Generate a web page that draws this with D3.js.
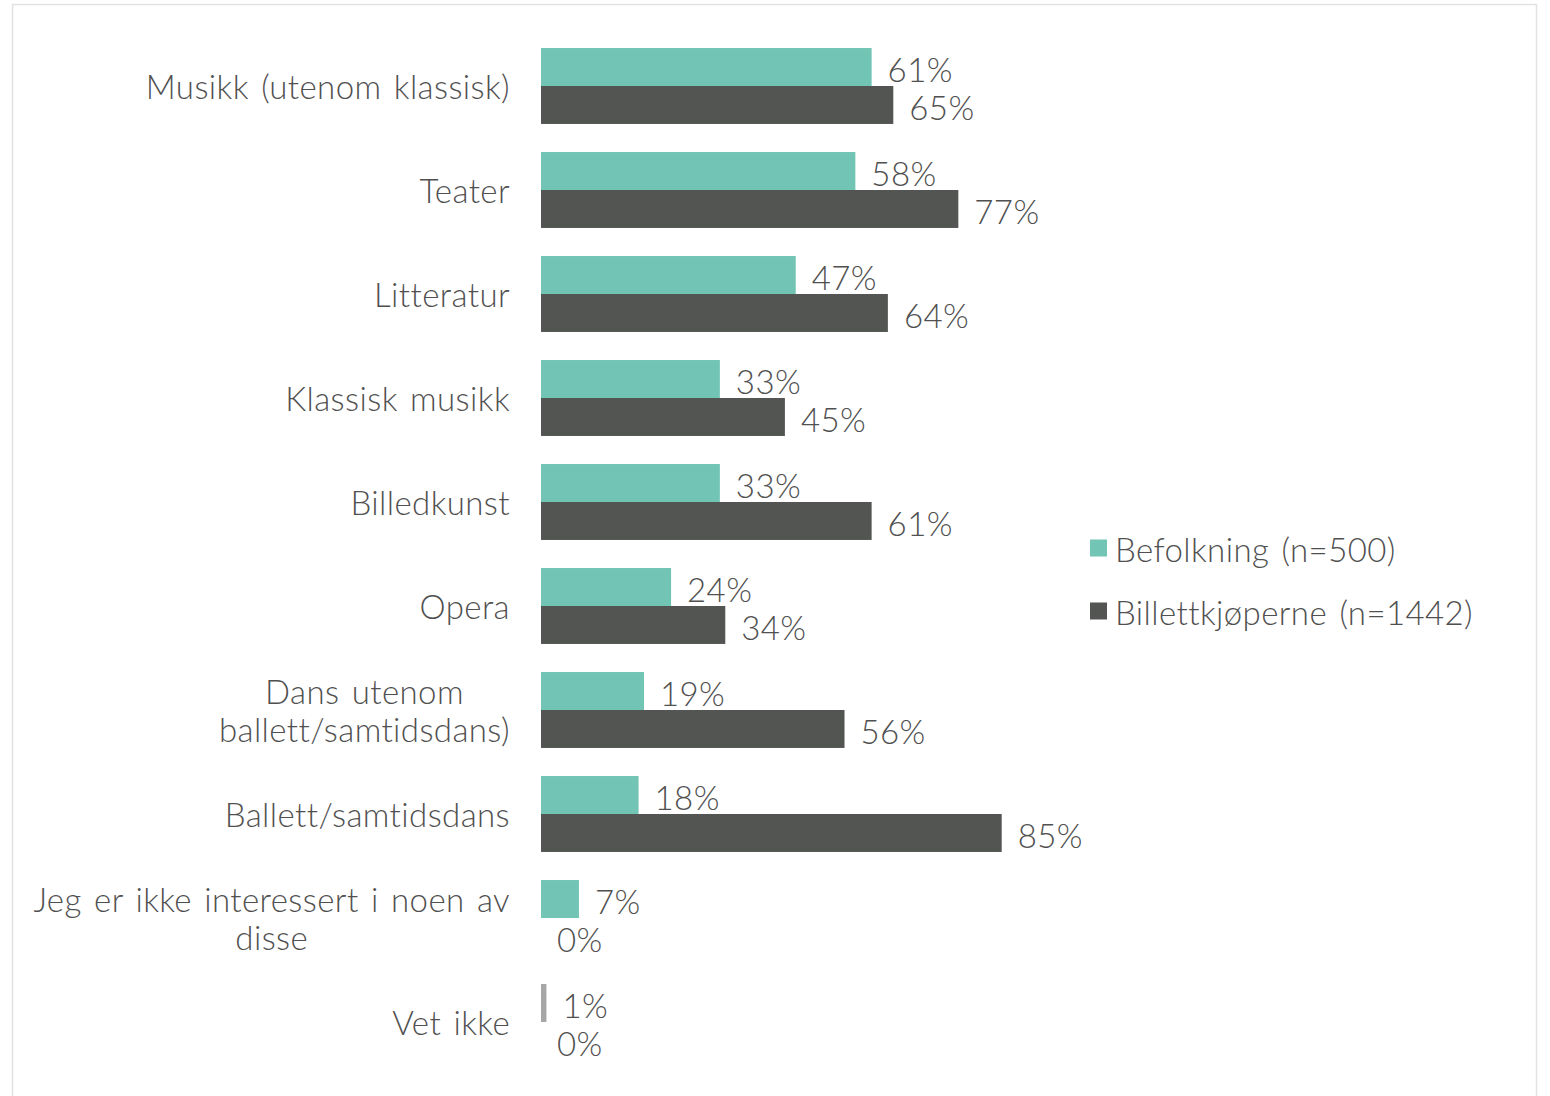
<!DOCTYPE html>
<html>
<head>
<meta charset="utf-8">
<script src="https://cdn.jsdelivr.net/npm/d3@7"></script>
<style>
  html, body { margin: 0; padding: 0; background: #fff; }
  svg text { font-family: "Lato", "Noto Sans", sans-serif; font-weight: 300; fill: #505050; word-spacing: 3px; letter-spacing: 0.4px; }
</style>
</head>
<body>
<svg id="chart" width="1550" height="1096"></svg>
<script>
// Interest in art forms: population vs. ticket buyers (percent)
const categories = [
  "Musikk (utenom klassisk)",
  "Teater",
  "Litteratur",
  "Klassisk musikk",
  "Billedkunst",
  "Opera",
  "Dans utenom\nballett/samtidsdans)",
  "Ballett/samtidsdans",
  "Jeg er ikke interessert i noen av\ndisse",
  "Vet ikke"
];
const befolkning = [61, 58, 47, 33, 33, 24, 19, 18, 7, 1];
const billettkjopere = [65, 77, 64, 45, 61, 34, 56, 85, 0, 0];
const seriesNames = ["Befolkning (n=500)", "Billettkjøperne (n=1442)"];
const seriesColors = ["#72c4b4", "#535553"];
const vetIkkeColor = "#a6a6a6";

const svg = d3.select("#chart");

// light frame around the chart area
svg.append("rect")
  .attr("x", 12.5).attr("y", 4.5)
  .attr("width", 1524).attr("height", 1200)
  .attr("fill", "none").attr("stroke", "#e2e2e2").attr("stroke-width", 1.5);

const x0 = 541;
const x = d3.scaleLinear().domain([0, 100]).range([x0, x0 + 542]);
const y = d3.scaleBand().domain(d3.range(categories.length)).range([34, 1074]).paddingInner(0.27).paddingOuter(0.135);
const inner = d3.scaleBand().domain([0, 1]).range([0, y.bandwidth()]);

const fontSize = 33;

const groups = svg.append("g").selectAll("g")
  .data(categories.map((c, i) => ({ c, i, vals: [befolkning[i], billettkjopere[i]] })))
  .join("g")
  .attr("transform", d => `translate(0,${y(d.i)})`);

groups.each(function(d) {
  const g = d3.select(this);
  d.vals.forEach((v, s) => {
    const color = (d.c === "Vet ikke" && s === 0) ? vetIkkeColor : seriesColors[s];
    if (v > 0) {
      g.append("rect")
        .attr("x", x(0))
        .attr("y", inner(s))
        .attr("width", x(v) - x(0))
        .attr("height", inner.bandwidth())
        .attr("fill", color);
    }
    g.append("text")
      .attr("x", x(v) + 16)
      .attr("y", inner(s) + inner.bandwidth() / 2 + 2)
      .attr("dominant-baseline", "central")
      .attr("font-size", fontSize)
      .text(v + "%");
  });

  // category label, lines centred on each other, block right-aligned
  const lines = d.c.split("\n");
  const t = g.append("text")
    .attr("font-size", fontSize)
    .attr("text-anchor", "middle");
  const lh = 38;
  const cy = y.bandwidth() / 2;
  lines.forEach((ln, k) => {
    t.append("tspan")
      .attr("y", cy + (k - (lines.length - 1) / 2) * lh)
      .attr("dominant-baseline", "central")
      .text(ln);
  });
  let maxW = 0;
  t.selectAll("tspan").each(function() {
    maxW = Math.max(maxW, this.getComputedTextLength());
  });
  t.selectAll("tspan").attr("x", 510 - maxW / 2);
});

// legend
const legend = svg.append("g").attr("transform", "translate(1090,548)");
seriesNames.forEach((name, i) => {
  const lg = legend.append("g").attr("transform", `translate(0,${i * 63})`);
  lg.append("rect").attr("x", 0).attr("y", -8.5).attr("width", 17).attr("height", 17).attr("fill", seriesColors[i]);
  lg.append("text").attr("x", 25).attr("y", 1)
    .attr("dominant-baseline", "central")
    .attr("font-size", fontSize)
    .text(name);
});
</script>
</body>
</html>
